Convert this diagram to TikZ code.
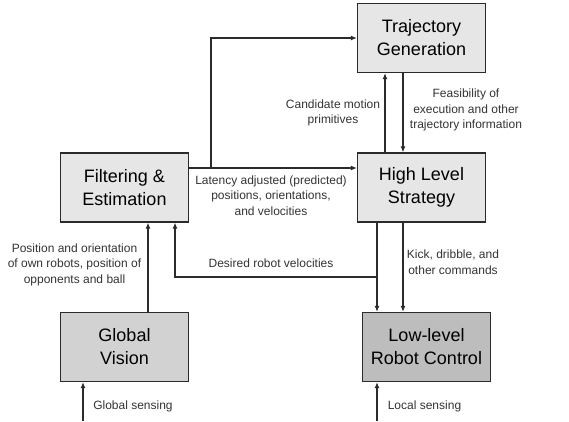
\documentclass[tikz,border=0pt]{standalone}
\usepackage{fontspec}
\setmainfont{Liberation Sans}
\usepackage{tikz}
\usetikzlibrary{arrows.meta,calc}
\definecolor{BoxLight}{HTML}{E6E6E6}
\definecolor{BoxMid}{HTML}{D2D2D2}
\definecolor{BoxDark}{HTML}{BDBDBD}
\definecolor{LineGray}{HTML}{2B2B2B}
\begin{document}
\begin{tikzpicture}[x=1pt,y=-1pt, blk/.style={draw=LineGray,line width=1.3pt,minimum width=128pt,minimum height=69pt,align=center,inner sep=0pt,font=\fontsize{18}{23}\selectfont}, lbl/.style={align=center,inner sep=0pt,text=black!80,font=\fontsize{12}{15.5}\selectfont}, a/.style={-{Latex[length=6pt,width=5pt]},line width=1.1pt,LineGray}, ln/.style={line width=1.1pt,LineGray}]
\useasboundingbox (0,0) rectangle (569,421);
\node[blk,fill=BoxLight] (traj) at (421.5,38) {Trajectory\\Generation};
\node[blk,fill=BoxLight] (filt) at (124.5,187.5) {Filtering \&\\Estimation};
\node[blk,fill=BoxLight] (hls) at (421.5,187.5) {High Level\\Strategy};
\node[blk,fill=BoxMid] (vis) at (124.5,347) {Global\\Vision};
\node[blk,fill=BoxDark] (ctrl) at (426.5,347) {Low-level\\Robot Control};
% free ends and branch points
\coordinate (fork) at (211,168);
\coordinate (vsplit) at (377,277);
\coordinate (vleft) at (175,277);
\coordinate (gin) at (83,421);
\coordinate (lin) at (377,421);
% connectors
\draw[a] (filt.east |- fork) -- (hls.west |- fork);
\draw[a] (fork) |- (traj.west);
\draw[a] (hls.north -| 385,0) -- (traj.south -| 385,0);
\draw[a] (traj.south -| 403,0) -- (hls.north -| 403,0);
\draw[ln] (hls.south -| vsplit) -- (vsplit);
\draw[a] (vsplit) -- (ctrl.north -| vsplit);
\draw[a] (vsplit) -- (vleft) -- (filt.south -| vleft);
\draw[a] (hls.south -| 403,0) -- (ctrl.north -| 403,0);
\draw[a] (vis.north -| 148,0) -- (filt.south -| 148,0);
\draw[a] (gin) -- (vis.south -| gin);
\draw[a] (lin) -- (ctrl.south -| lin);
% labels
\node[lbl] (lcand) at (333,113) {Candidate motion\\primitives};
\node[lbl] (lfeas) at (466,110) {Feasibility of\\execution and other\\trajectory information};
\node[lbl] (llat) at (271,195.5) {Latency adjusted (predicted)\\positions, orientations,\\and velocities};
\node[lbl] (ldes) at (271,263) {Desired robot velocities};
\node[lbl] (lkick) at (453,262) {Kick, dribble, and\\other commands};
\node[lbl] (lpos) at (74.5,264.5) {Position and orientation\\of own robots, position of\\opponents and ball};
\node[lbl] (lgs) at (133,406) {Global sensing};
\node[lbl] (lls) at (424.5,406) {Local sensing};
\end{tikzpicture}
\end{document}
